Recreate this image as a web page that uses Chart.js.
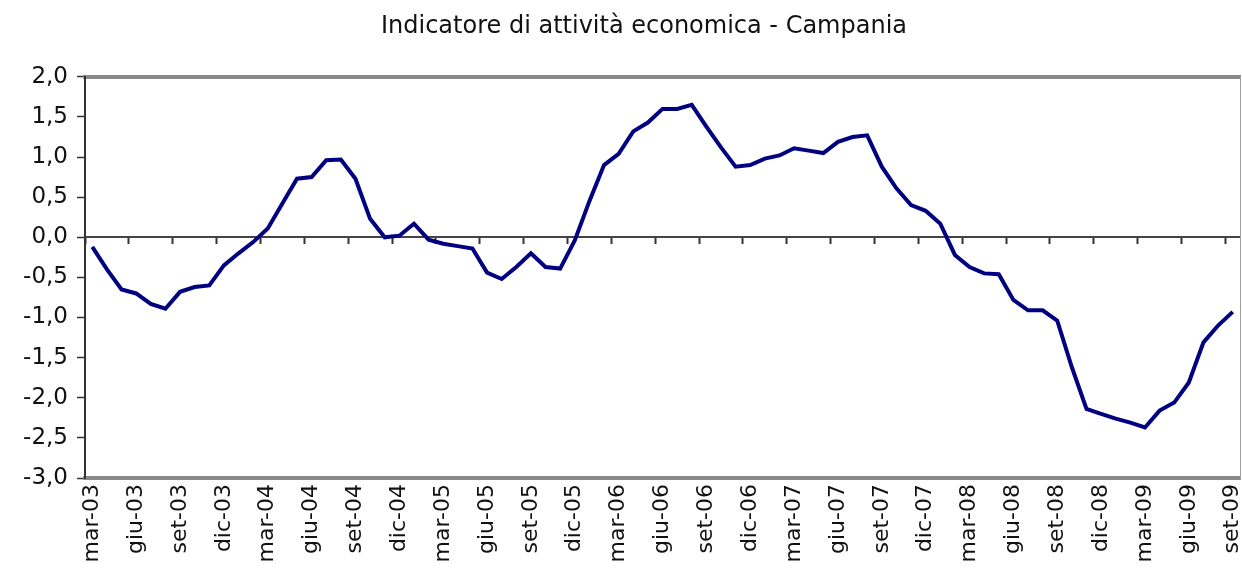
<!DOCTYPE html>
<html lang="it">
<head>
<meta charset="utf-8">
<script src="https://cdn.jsdelivr.net/npm/chart.js@4.4.1/dist/chart.umd.min.js"></script>
<style>
  body { margin: 0; background: #fff; }
  #wrap { width: 1242px; height: 572px; }
</style>
</head>
<body>
<div id="wrap"><canvas id="chart" width="1242" height="572"></canvas></div>

<script>
"use strict";

var chartTitle = 'Indicatore di attività economica - Campania';

// one label per month, mar-03 .. set-09
var months = [
  'mar-03','apr-03','mag-03','giu-03','lug-03','ago-03','set-03','ott-03','nov-03','dic-03',
  'gen-04','feb-04','mar-04','apr-04','mag-04','giu-04','lug-04','ago-04','set-04','ott-04','nov-04','dic-04',
  'gen-05','feb-05','mar-05','apr-05','mag-05','giu-05','lug-05','ago-05','set-05','ott-05','nov-05','dic-05',
  'gen-06','feb-06','mar-06','apr-06','mag-06','giu-06','lug-06','ago-06','set-06','ott-06','nov-06','dic-06',
  'gen-07','feb-07','mar-07','apr-07','mag-07','giu-07','lug-07','ago-07','set-07','ott-07','nov-07','dic-07',
  'gen-08','feb-08','mar-08','apr-08','mag-08','giu-08','lug-08','ago-08','set-08','ott-08','nov-08','dic-08',
  'gen-09','feb-09','mar-09','apr-09','mag-09','giu-09','lug-09','ago-09','set-09'
];

// values
var indicatore = [
  -0.12, -0.40, -0.65, -0.70, -0.83, -0.89, -0.68, -0.62, -0.60, -0.35,
  -0.20, -0.06,  0.11,  0.42,  0.73,  0.75,  0.96,  0.97,  0.73,  0.23,
   0.00,  0.02,  0.17, -0.03, -0.08, -0.11, -0.14, -0.44, -0.52, -0.37,
  -0.20, -0.37, -0.39, -0.04,  0.45,  0.90,  1.04,  1.32,  1.43,  1.60,
   1.60,  1.65,  1.38,  1.12,  0.88,  0.90,  0.98,  1.02,  1.11,  1.08,
   1.05,  1.19,  1.25,  1.27,  0.88,  0.61,  0.40,  0.33,  0.17, -0.22,
  -0.37, -0.45, -0.46, -0.78, -0.91, -0.91, -1.04, -1.62, -2.14, -2.20,
  -2.26, -2.31, -2.37, -2.16, -2.06, -1.81, -1.31, -1.10, -0.93
];

var yMin = -3;
var yMax = 2;
var yStep = 0.5;
var labelEvery = 3;   // a label and a tick mark every 3 months

var FONT = 'DejaVu Sans';

var ctx = document.getElementById('chart');
var lineChart = new Chart(ctx, {
  type: 'line',
  data: {
    labels: months,
    datasets: [{
      data: indicatore,
      borderColor: '#000080',
      borderWidth: 4,
      pointRadius: 0,
      tension: 0,
      fill: false,
      xAxisID: 'x',
      yAxisID: 'y'
    }]
  },
  options: {
    responsive: false,
    animation: false,
    devicePixelRatio: 1,
    // negative right padding shifts the centred title to the right;
    // the right axis takes the extra width back
    layout: { padding: { left: 0, right: -46, top: 0, bottom: 0 } },
    plugins: {
      legend: { display: false },
      tooltip: { enabled: false },
      title: {
        display: true,
        text: chartTitle,
        color: '#111',
        font: { family: FONT, size: 24, weight: 'normal' },
        padding: { top: 12, bottom: 36 }
      }
    },
    scales: {
      x: {
        type: 'category',
        position: 'bottom',
        offset: true,
        grid: { display: false, drawTicks: false },
        border: { display: true, color: '#8a8a8a', width: 4 },
        ticks: {
          autoSkip: false,
          minRotation: 90,
          maxRotation: 90,
          padding: 6,
          color: '#111',
          font: { family: FONT, size: 22 }
        },
        afterBuildTicks: function(axis) {
          axis.ticks = axis.ticks.filter(function(t) { return t.value % labelEvery === 0; });
        },
        afterFit: function(axis) {
          axis.height = 94;
          axis.paddingLeft = 0;
          axis.paddingRight = 0;
        }
      },
      // category axis drawn across the zero line, tick marks only
      xZero: {
        type: 'linear',
        position: { y: 0 },
        display: true,
        min: -0.5,
        max: months.length - 0.5,
        ticks: { display: false },
        grid: { display: true, drawOnChartArea: false, drawTicks: true, tickLength: 6, tickColor: '#333', tickWidth: 2 },
        border: { display: true, color: '#444', width: 2 },
        afterBuildTicks: function(axis) {
          var t = [];
          for (var k = 0; k * labelEvery < months.length; k++) t.push({ value: k * labelEvery - 0.5 });
          axis.ticks = t;
        }
      },
      xTop: {
        type: 'linear',
        position: 'top',
        display: true,
        ticks: { display: false },
        grid: { display: false, drawTicks: false },
        border: { display: true, color: '#8a8a8a', width: 4 }
      },
      y: {
        type: 'linear',
        position: 'left',
        min: yMin,
        max: yMax,
        grid: { display: true, drawOnChartArea: false, drawTicks: true, tickLength: 8, tickColor: '#333', tickWidth: 1.5 },
        border: { display: true, color: '#333', width: 2 },
        ticks: {
          stepSize: yStep,
          padding: 9,
          color: '#111',
          font: { family: FONT, size: 23 },
          callback: function(v) { return v.toFixed(1).replace('.', ','); }
        },
        afterFit: function(axis) { axis.width = 85; }
      },
      yRight: {
        type: 'linear',
        position: 'right',
        display: true,
        ticks: { display: false },
        grid: { display: false, drawTicks: false },
        border: { display: true, color: '#a0a0a0', width: 1 },
        afterFit: function(axis) { axis.width = 48; }
      }
    }
  }
});
</script>
</body>
</html>
